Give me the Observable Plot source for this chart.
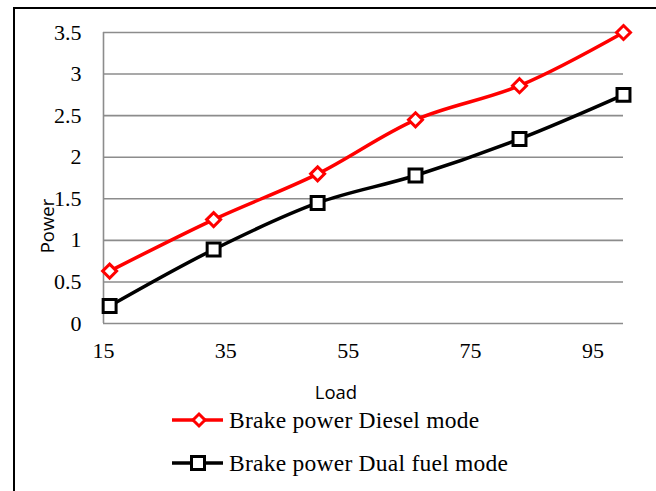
<!DOCTYPE html>
<html>
<head>
<meta charset="utf-8">
<script src="https://cdn.jsdelivr.net/npm/d3@7"></script>
<script src="https://cdn.jsdelivr.net/npm/@observablehq/plot@0.6"></script>
<style>
  html, body { margin: 0; padding: 0; background: #fff; }
  #wrap { position: relative; width: 656px; height: 491px; overflow: hidden; }
  #frame { position: absolute; left: 13px; top: 7px; width: 660px; height: 500px;
           border-left: 2px solid #000; border-top: 2px solid #000; }
  #chart { position: absolute; left: 0; top: 0; }
  .ttl { position: absolute; font-family: "Open Sans", sans-serif; font-size: 18.5px; color: #000; white-space: nowrap; }
  .leg { position: absolute; left: 170px; font-family: "Liberation Serif", serif; font-size: 23.5px; letter-spacing: 0.25px; color: #000; white-space: nowrap; display: flex; align-items: center; }
  .leg svg { margin-right: 3px; }
</style>
</head>
<body>
<div id="wrap">
  <div id="frame"></div>
  <div id="chart"></div>
  <div class="ttl" id="ylab" style="left:46px; top:226px; transform: translate(-50%,-50%) rotate(-90deg);">Power</div>
  <div class="ttl" id="xlab" style="left:336px; top:391px; transform: translate(-50%,-50%);">Load</div>
  <div class="leg" style="top:406px;">
    <svg width="56" height="28"><line x1="2" y1="14" x2="53" y2="14" stroke="#ff0000" stroke-width="3.5"/><path d="M29,8 L35,14 L29,20 L23,14 Z" fill="#fff" stroke="#ff0000" stroke-width="3"/></svg>
    <span>Brake power Diesel mode</span>
  </div>
  <div class="leg" style="top:449px;">
    <svg width="56" height="28"><line x1="2" y1="14" x2="53" y2="14" stroke="#000" stroke-width="3.5"/><rect x="21.5" y="7.5" width="13" height="13" fill="#fff" stroke="#000" stroke-width="3"/></svg>
    <span>Brake power Dual fuel mode</span>
  </div>
</div>
<script>
const load = [16, 33, 50, 66, 83, 100];
const dieselPower = [0.63, 1.25, 1.80, 2.45, 2.86, 3.50];
const dualFuelPower = [0.21, 0.89, 1.45, 1.78, 2.22, 2.75];
const xTicks = [15, 35, 55, 75, 95];
const yTicks = [0, 0.5, 1, 1.5, 2, 2.5, 3, 3.5];
const seriesNames = ["Brake power Diesel mode", "Brake power Dual fuel mode"];

const diesel = load.map((x, i) => ({x, y: dieselPower[i], s: seriesNames[0]}));
const dual = load.map((x, i) => ({x, y: dualFuelPower[i], s: seriesNames[1]}));

const chart = Plot.plot({
  width: 656,
  height: 400,
  marginLeft: 103,
  marginRight: 33,
  marginTop: 32,
  marginBottom: 77,
  style: {fontFamily: "'Liberation Serif', serif", fontSize: "22px", background: "transparent", color: "#000"},
  x: {domain: [15, 100], ticks: xTicks, tickSize: 0, tickPadding: 19, tickFormat: d => String(d), label: null},
  y: {domain: [0, 3.5], ticks: yTicks, tickSize: 0, tickPadding: 22, tickFormat: d => String(d), label: null},
  marks: [
    Plot.ruleY(yTicks, {stroke: "#8c8c8c", strokeWidth: 1.6, strokeOpacity: 1}),
    Plot.ruleX([15], {stroke: "#8c8c8c", strokeWidth: 1.6, strokeOpacity: 1}),
    Plot.line(dual, {x: "x", y: "y", stroke: "#000", strokeWidth: 3.5, curve: "catmull-rom"}),
    Plot.line(diesel, {x: "x", y: "y", stroke: "#ff0000", strokeWidth: 3.5, curve: "catmull-rom"}),
    Plot.dot(dual, {x: "x", y: "y", symbol: "square", r: 7.3, fill: "#fff", stroke: "#000", strokeWidth: 3}),
    Plot.dot(diesel, {x: "x", y: "y", symbol: "diamond2", r: 6.3, fill: "#fff", stroke: "#ff0000", strokeWidth: 3})
  ]
});
document.getElementById("chart").appendChild(chart);
</script>
</body>
</html>
